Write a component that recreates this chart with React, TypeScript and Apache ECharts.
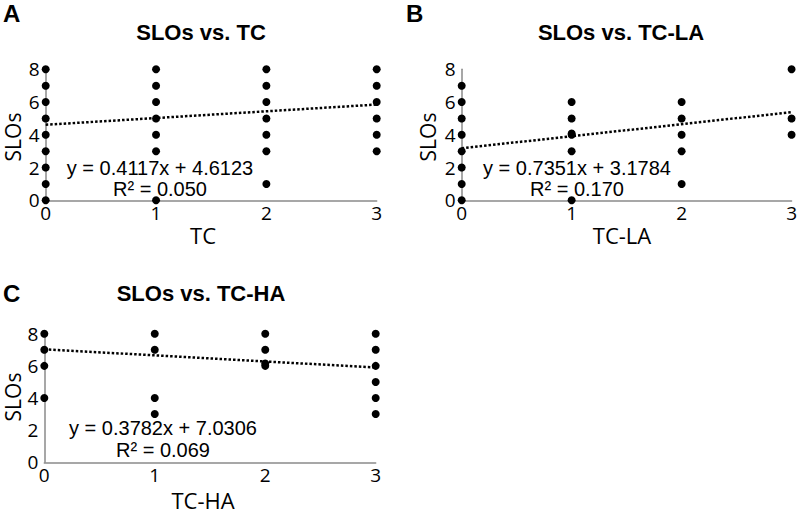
import React, { useEffect, useRef } from "react";
import * as echarts from "echarts";

const xTicks = [0, 1, 2, 3];
const yTicks = [0, 2, 4, 6, 8];

// Panel A: SLOs vs. TC
const tcX = [0, 0, 0, 0, 0, 0, 0, 0, 0, 1, 1, 1, 1, 1, 1, 1, 2, 2, 2, 2, 2, 2, 2, 3, 3, 3, 3, 3, 3];
const tcY = [0, 1, 2, 3, 4, 5, 6, 7, 8, 0, 3, 4, 5, 6, 7, 8, 1, 3, 4, 5, 6, 7, 8, 3, 4, 5, 6, 7, 8];
const tcFit = { slope: 0.4117, intercept: 4.6123, r2: "0.050" };

// Panel B: SLOs vs. TC-LA
const laX = [0, 0, 0, 0, 0, 0, 0, 0, 1, 1, 1, 1, 1, 1, 2, 2, 2, 2, 2, 3, 3, 3];
const laY = [0, 1, 2, 3, 4, 5, 6, 7, 0, 3, 4, 4.08, 5, 6, 1, 3, 4, 5, 6, 4, 5, 8];
const laFit = { slope: 0.7351, intercept: 3.1784, r2: "0.170" };

// Panel C: SLOs vs. TC-HA
const haX = [0, 0, 0, 0, 1, 1, 1, 1, 2, 2, 2, 2, 3, 3, 3, 3, 3, 3];
const haY = [4, 6, 7, 8, 3, 4, 7, 8, 6, 6.15, 7, 8, 3, 4, 5, 6, 7, 8];
const haFit = { slope: -0.3782, intercept: 7.0306, r2: "0.069" };

const panels = [
  { letter: "A", title: "SLOs vs. TC", xName: "TC", xs: tcX, ys: tcY, fit: tcFit, slopeText: "0.4117" },
  { letter: "B", title: "SLOs vs. TC-LA", xName: "TC-LA", xs: laX, ys: laY, fit: laFit, slopeText: "0.7351" },
  { letter: "C", title: "SLOs vs. TC-HA", xName: "TC-HA", xs: haX, ys: haY, fit: haFit, slopeText: "0.3782" },
];

const layout = [
  { left: 45.7, top: 69.3, width: 331, height: 131, letterX: 3, letterY: 13, titleX: 201, titleY: 32, eqX: 160, eqY: 168, r2Y: 189, nameX: 13, nameY: 137, xNameX: 203, xNameY: 235 },
  { left: 461.7, top: 69.3, width: 332, height: 131, letterX: 406, letterY: 13, titleX: 621, titleY: 32, eqX: 577, eqY: 168, r2Y: 189, nameX: 428, nameY: 137, xNameX: 622, xNameY: 235 },
  { left: 44.3, top: 333.7, width: 331.4, height: 128.6, letterX: 3, letterY: 293, titleX: 201, titleY: 293, eqX: 163, eqY: 428, r2Y: 450, nameX: 13, nameY: 397, xNameX: 203, xNameY: 500 },
];

const SANS = "'Liberation Sans', Arial, sans-serif";
const TICKF = "'Open Sans', 'Liberation Sans', sans-serif";

export default function App() {
  const ref = useRef<HTMLDivElement>(null);
  useEffect(() => {
    if (!ref.current) return;
    const chart = echarts.init(ref.current, undefined, { renderer: "svg" });
    const grid: any[] = [];
    const xAxis: any[] = [];
    const yAxis: any[] = [];
    const series: any[] = [];
    const graphic: any[] = [];
    panels.forEach((p, i) => {
      const L = layout[i];
      grid.push({ left: L.left, top: L.top, width: L.width, height: L.height });
      xAxis.push({
        type: "value", gridIndex: i, min: xTicks[0], max: xTicks[xTicks.length - 1], interval: 1,
        axisLine: { show: true, lineStyle: { color: "#8a8a8a", width: 1.5 } },
        axisTick: { show: false }, splitLine: { show: false },
        axisLabel: { color: "#000", fontSize: 19, fontFamily: TICKF, margin: 3 },
      });
      yAxis.push({
        type: "value", gridIndex: i, min: yTicks[0], max: yTicks[yTicks.length - 1], interval: 2,
        axisLine: { show: true, onZero: false, lineStyle: { color: "#8a8a8a", width: 1.5 } },
        axisTick: { show: false }, splitLine: { show: false },
        axisLabel: { color: "#000", fontSize: 19, fontFamily: TICKF, margin: 6 },
      });
      series.push({
        type: "scatter", xAxisIndex: i, yAxisIndex: i, symbolSize: 8, clip: false,
        itemStyle: { color: "#000", opacity: 1 },
        data: p.xs.map((x, k) => [x, p.ys[k]]),
      });
      series.push({
        type: "line", xAxisIndex: i, yAxisIndex: i, symbol: "none", z: 3,
        lineStyle: { color: "#000", width: 2.5, type: [2.5, 2] },
        data: [[0, p.fit.intercept], [3, p.fit.intercept + 3 * p.fit.slope]],
      });
      graphic.push(
        { type: "text", x: L.letterX, y: L.letterY, style: { text: p.letter, font: `bold 24px ${SANS}`, lineHeight: 24, fill: "#000", textAlign: "left", textVerticalAlign: "middle" } },
        { type: "text", x: L.titleX, y: L.titleY, style: { text: p.title, font: `bold 22px ${SANS}`, fill: "#000", textAlign: "center", textVerticalAlign: "middle" } },
        { type: "text", x: L.eqX, y: L.eqY, z: 10, style: { text: `y = ${p.slopeText}x + ${p.fit.intercept.toFixed(4)}`, font: `20px ${SANS}`, fill: "#000", textAlign: "center", textVerticalAlign: "middle" } },
        { type: "text", x: L.eqX, y: L.r2Y, z: 10, style: { text: `R² = ${p.fit.r2}`, font: `20px ${SANS}`, fill: "#000", textAlign: "center", textVerticalAlign: "middle" } },
        { type: "text", x: L.nameX, y: L.nameY, rotation: Math.PI / 2, style: { text: "SLOs", font: `21px ${TICKF}`, lineHeight: 18, fill: "#000", textAlign: "center", textVerticalAlign: "middle" } },
        { type: "text", x: L.xNameX, y: L.xNameY, style: { text: p.xName, font: `22px ${TICKF}`, fill: "#000", textAlign: "center", textVerticalAlign: "middle" } },
      );
    });
    chart.setOption({ animation: false, backgroundColor: "#fff", grid, xAxis, yAxis, series, graphic });
    return () => chart.dispose();
  }, []);
  return <div ref={ref} style={{ position: "fixed", left: 0, top: 0, width: 800, height: 514 }} />;
}
